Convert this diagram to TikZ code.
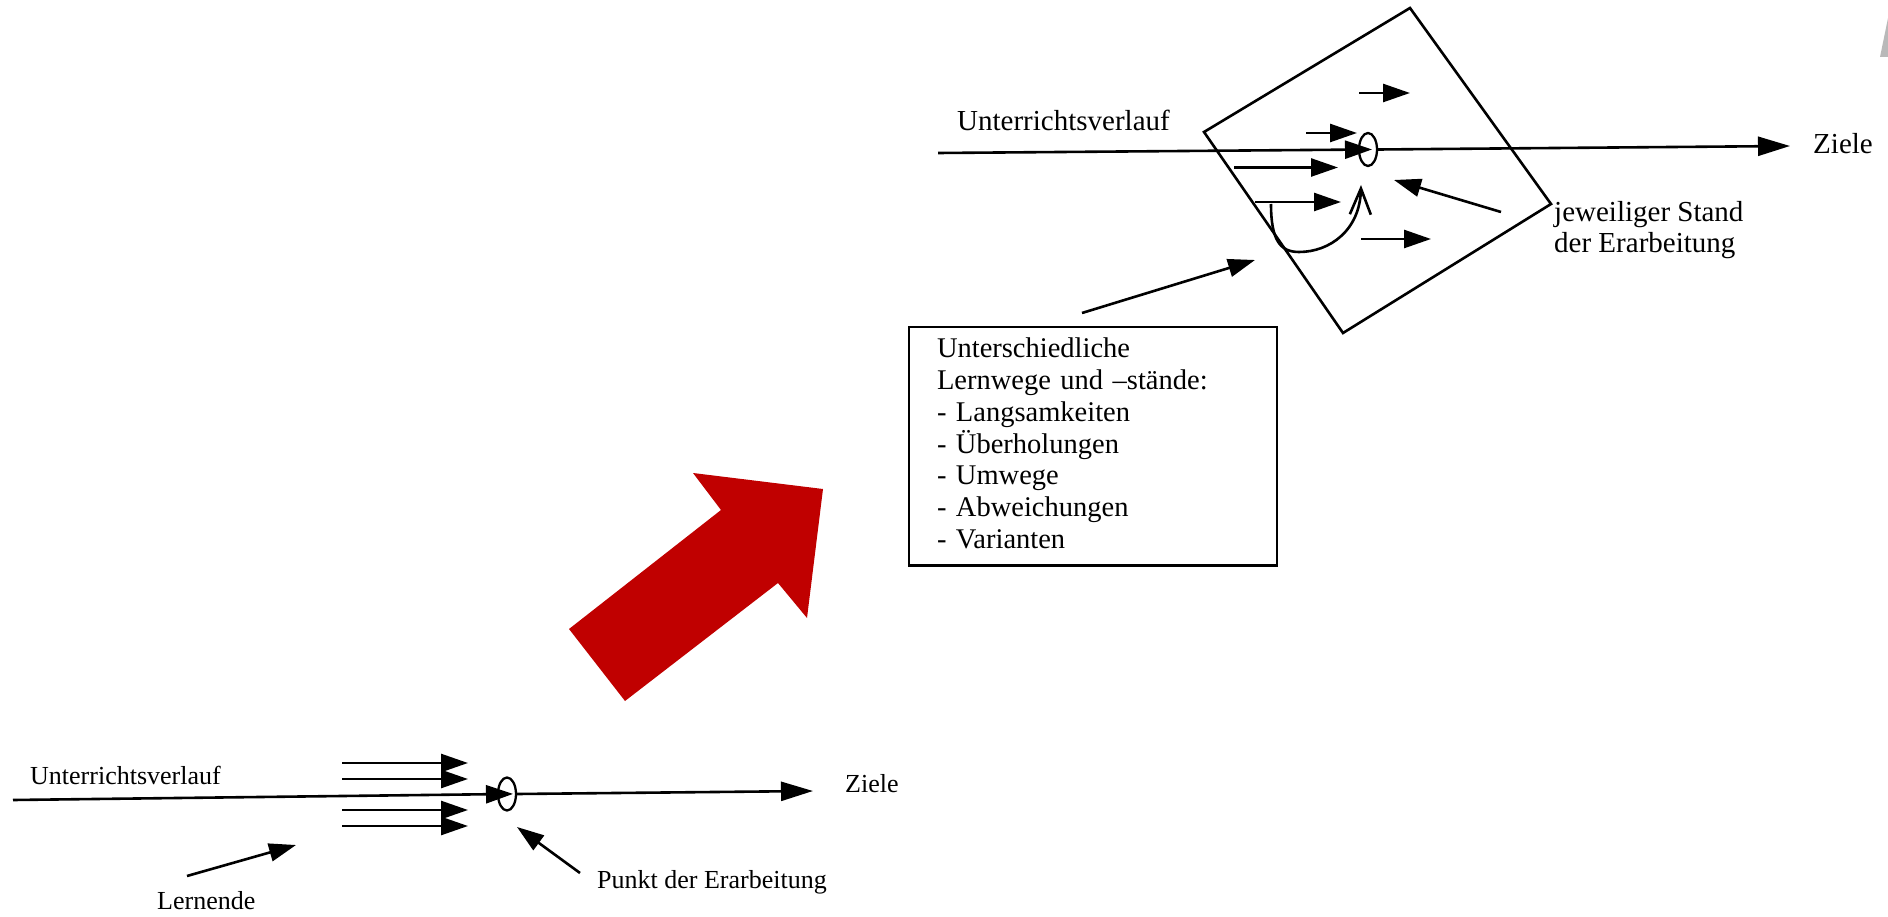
\documentclass[tikz,border=0pt]{standalone}
\usepackage{fontspec}
\setmainfont{Liberation Serif}
\usetikzlibrary{arrows.meta,shapes.geometric}
\definecolor{pfeilrot}{RGB}{192,0,0}
\tikzset{
  linie/.style={line width=2.6pt},
  pfeil/.style={line width=2.6pt, -{Triangle[length=27pt,width=18pt]}},
  hauptpfeil/.style={line width=2.6pt, -{Triangle[length=32pt,width=19pt]}},
  kleintext/.style={font=\fontsize{26}{28}\selectfont, inner sep=0pt, anchor=base west},
  grosstext/.style={font=\fontsize{29}{31}\selectfont, inner sep=0pt, anchor=base west},
  punkt/.style={ellipse, draw, line width=2.3pt, minimum width=18pt, minimum height=33pt, inner sep=0pt}
}

\begin{document}
\begin{tikzpicture}[x=1pt,y=-1pt]
  \useasboundingbox (0,0) rectangle (1888,917);

  % unten: gleichschrittiger Verlauf
  \coordinate (startA) at (13,800);
  \coordinate (zielA) at (813,791);
  \node[punkt] (pktA) at (507,794) {};
  \draw[pfeil, shorten >=-6pt] (startA) -- (pktA.center);
  \draw[hauptpfeil] (pktA.east) -- (zielA);
  \node[kleintext] (verlaufA) at (30,784) {Unterrichtsverlauf};
  \node[kleintext] (zieleA) at (845,792) {Ziele};
  \foreach \yy [count=\i] in {763,779,810,826} {
    \coordinate (la\i) at (342,\yy);
    \coordinate (lb\i) at (468,\yy);
    \draw[pfeil] (la\i) -- (lb\i);
  }
  \node[kleintext] (lernende) at (157,909) {Lernende};
  \coordinate (lernS) at (187,876);
  \coordinate (lernE) at (296,845);
  \draw[pfeil] (lernS) -- (lernE);
  \node[kleintext] (punktA) at (597,888) {Punkt der Erarbeitung};
  \coordinate (punktS) at (580,873);
  \coordinate (punktE) at (517,827);
  \draw[pfeil] (punktS) -- (punktE);

  % roter Pfeil
  \fill[pfeilrot] (569,629) -- (721,510) -- (693,473) -- (823,489)
    -- (807,618) -- (778,583) -- (625,701) -- cycle;

  % oben: unterschiedliche Lernwege
  \coordinate (startB) at (938,153);
  \coordinate (zielB) at (1790,146);
  \node[punkt] (pktB) at (1368,149.5) {};
  \draw[pfeil, shorten >=-4pt] (startB) -- (pktB.center);
  \draw[hauptpfeil] (pktB.east) -- (zielB);
  \node[grosstext] (verlaufB) at (957,131) {Unterrichtsverlauf};
  \node[grosstext] (zieleB) at (1813,154) {Ziele};
  \draw[linie, line join=miter] (1410,8) -- (1551,204) -- (1343,333) -- (1204,132) -- cycle;
  \foreach \xa/\xb/\yy [count=\i] in {1359/1410/93, 1306/1357/133, 1234/1338/167.5, 1255/1341/202, 1361/1431/239} {
    \coordinate (ma\i) at (\xa,\yy);
    \coordinate (mb\i) at (\xb,\yy);
    \draw[pfeil] (ma\i) -- (mb\i);
  }
  \coordinate (bogenS) at (1271,204);
  \coordinate (bogenE) at (1361,185);
  \draw[line width=2.6pt, -{Straight Barb[length=26pt,width=21pt,line width=2.6pt]}]
    (bogenS) .. controls (1271,240) and (1280,252) .. (1299,252)
    .. controls (1330,252) and (1360,230) .. (bogenE);
  \node[grosstext, align=left] (stand) at (1554,253) {jeweiliger Stand\\der Erarbeitung};
  \coordinate (standS) at (1501,212);
  \coordinate (standE) at (1394,180);
  \draw[pfeil] (standS) -- (standE);
  \node[draw, line width=2.8pt, anchor=north west, inner xsep=28pt, inner ysep=0pt,
    outer sep=0pt, text width=312pt, align=left, font=\fontsize{28.5}{31.7}\selectfont]
    (wege) at (909,327) {\rule{0pt}{31pt}Unterschiedliche\\Lernwege und –stände:\\- Langsamkeiten\\- Überholungen\\- Umwege\\- Abweichungen\\- Varianten\rule[-17pt]{0pt}{17pt}};
  \coordinate (wegeS) at (1082,313);
  \coordinate (wegeE) at (1255,260);
  \draw[pfeil] (wegeS) -- (wegeE);

  % Rest am Rand
  \fill[gray!55] (1880,57) -- (1888,18) -- (1888,57) -- cycle;
\end{tikzpicture}
\end{document}
